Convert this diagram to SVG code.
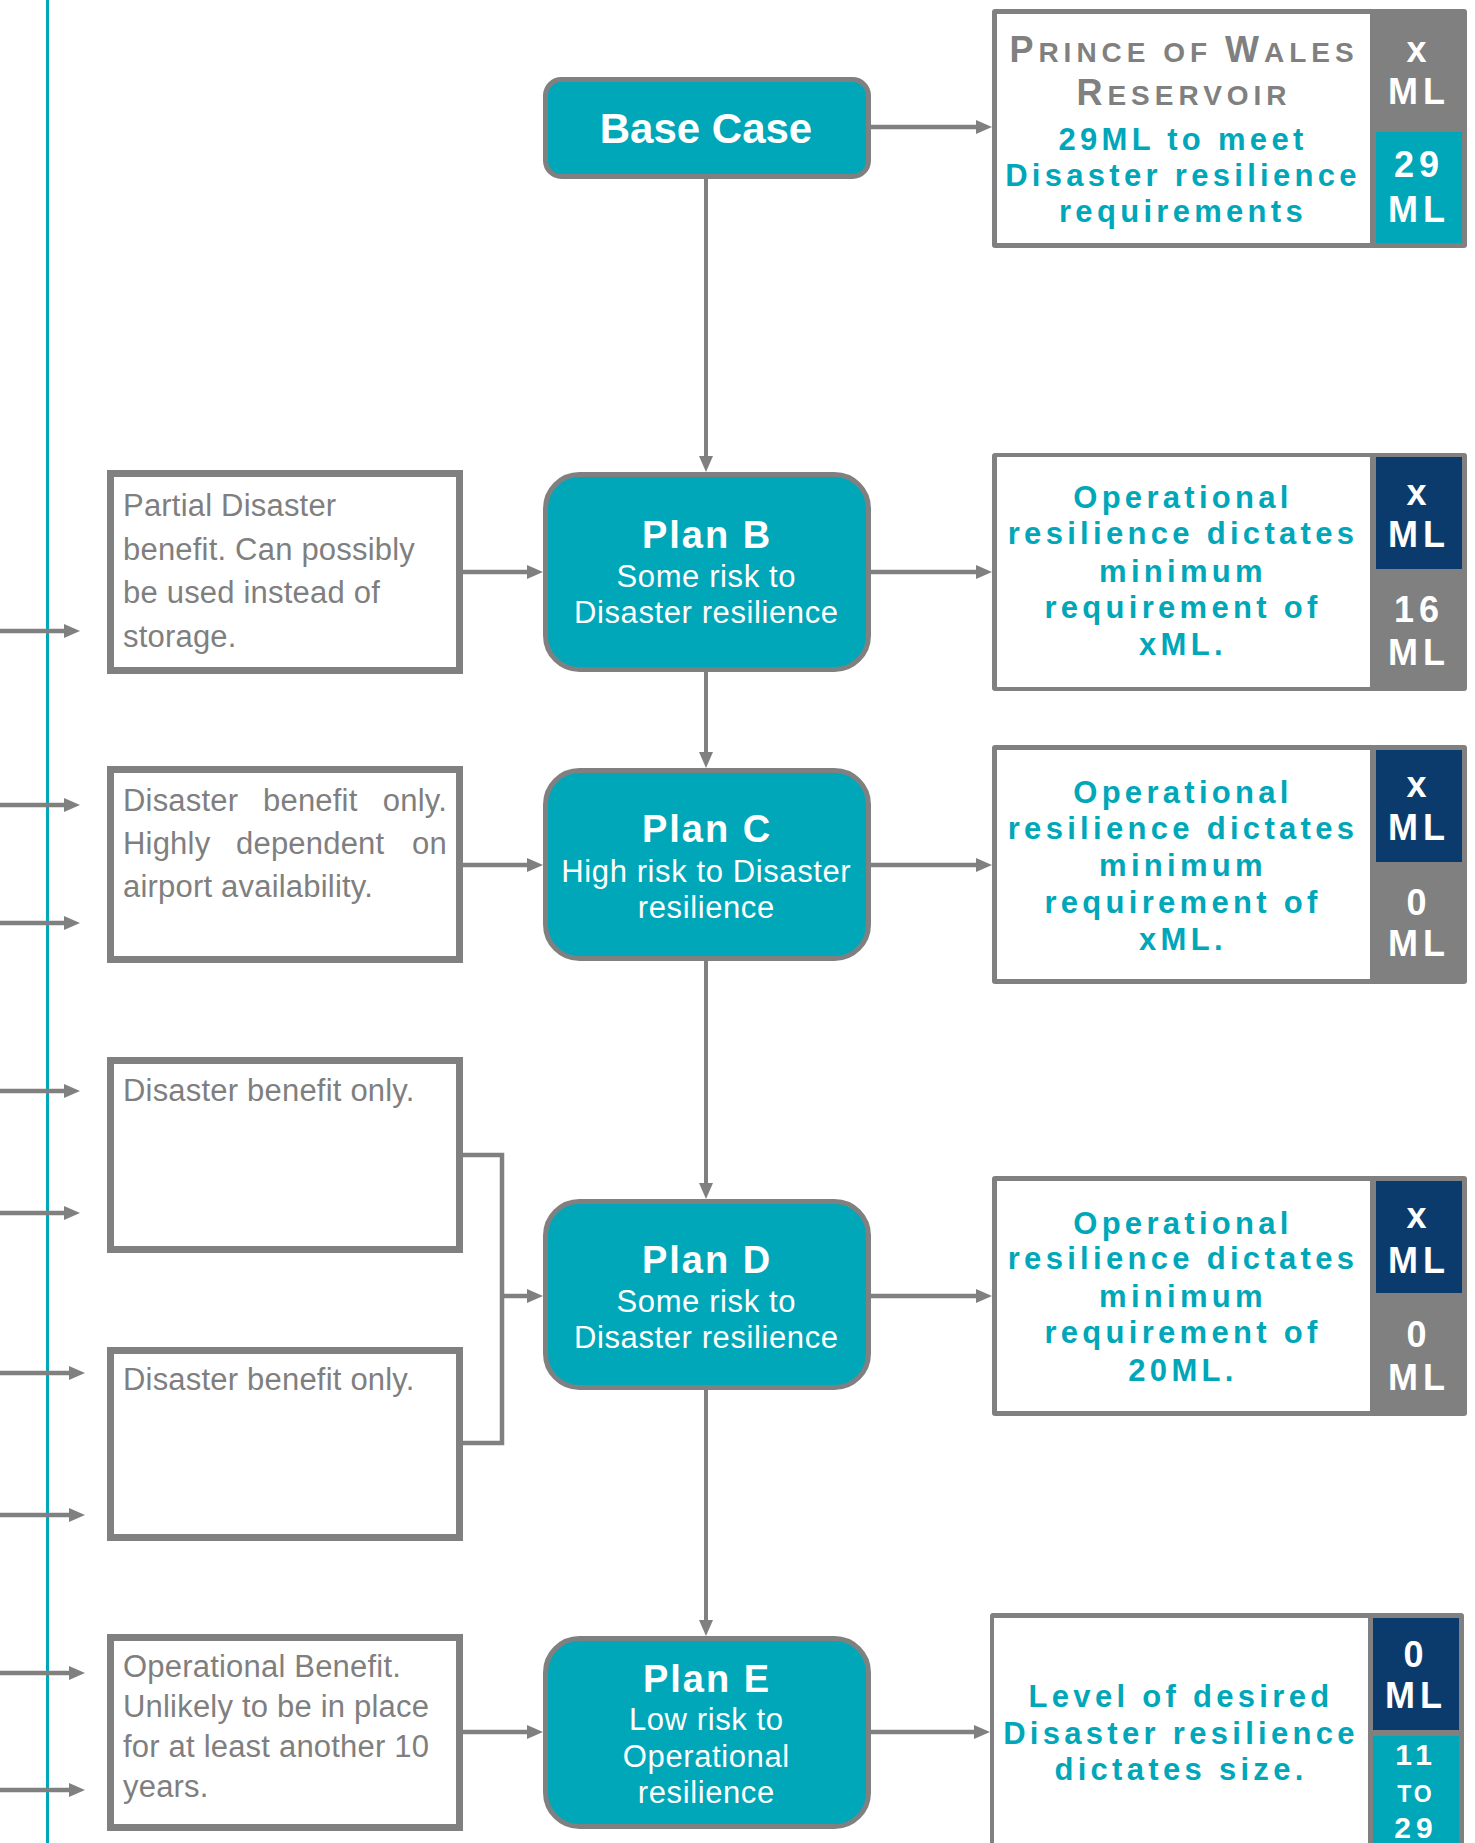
<svg xmlns="http://www.w3.org/2000/svg" width="1475" height="1843" viewBox="0 0 1475 1843">
<style>
text{font-family:"Liberation Sans",Arial,Helvetica,sans-serif}
.pbox{fill:#00A7B9;stroke:#808080;stroke-width:5}
.lbox{fill:#fff;stroke:#808080;stroke-width:7}
.rout{fill:#808080}
.rin{fill:#fff}
.navy{fill:#0A3B6C}
.tealsq{fill:#00A7B9}
.conn{stroke:#808080;stroke-width:4.5;fill:none}
.vconn{stroke:#808080;stroke-width:4;fill:none}
.ltxt{font-size:31px;fill:#7F7F7F;letter-spacing:0.2px}
.title{font-weight:bold;font-size:38px;fill:#fff;letter-spacing:2px;text-anchor:middle}
.base{font-weight:bold;font-size:42px;fill:#fff;text-anchor:middle}
.sub{font-size:31px;fill:#fff;letter-spacing:0.6px;text-anchor:middle}
.rtxt{font-weight:bold;font-size:31px;fill:#00A7B9;letter-spacing:4.3px;text-anchor:middle}
.num{font-weight:bold;font-size:36px;fill:#fff;letter-spacing:5px;text-anchor:middle}
.hd{font-weight:bold;font-size:28px;fill:#808080;letter-spacing:5px;text-anchor:middle}
.big{font-size:36px}
</style>
<defs>
<marker id="ah" markerUnits="userSpaceOnUse" markerWidth="16" markerHeight="14" refX="4" refY="7" orient="auto" viewBox="0 0 16 14">
<path d="M0,0 L16,7 L0,14 z" fill="#808080"/>
</marker>
</defs>

<rect x="46" y="0" width="3" height="1843" fill="#00A7B9"/>

<g id="connectors">
<line class="conn" x1="0" y1="631" x2="68" y2="631" marker-end="url(#ah)"/>
<line class="conn" x1="0" y1="805" x2="68" y2="805" marker-end="url(#ah)"/>
<line class="conn" x1="0" y1="923" x2="68" y2="923" marker-end="url(#ah)"/>
<line class="conn" x1="0" y1="1091" x2="68" y2="1091" marker-end="url(#ah)"/>
<line class="conn" x1="0" y1="1213" x2="68" y2="1213" marker-end="url(#ah)"/>
<line class="conn" x1="0" y1="1373" x2="73" y2="1373" marker-end="url(#ah)"/>
<line class="conn" x1="0" y1="1515" x2="73" y2="1515" marker-end="url(#ah)"/>
<line class="conn" x1="0" y1="1673" x2="73" y2="1673" marker-end="url(#ah)"/>
<line class="conn" x1="0" y1="1790" x2="73" y2="1790" marker-end="url(#ah)"/>

<line class="conn" x1="871" y1="127" x2="980" y2="127" marker-end="url(#ah)"/>
<line class="vconn" x1="706" y1="179" x2="706" y2="460" marker-end="url(#ah)"/>
<line class="conn" x1="463" y1="572" x2="531" y2="572" marker-end="url(#ah)"/>
<line class="conn" x1="871" y1="572" x2="980" y2="572" marker-end="url(#ah)"/>
<line class="vconn" x1="706" y1="672" x2="706" y2="756" marker-end="url(#ah)"/>
<line class="conn" x1="463" y1="865" x2="531" y2="865" marker-end="url(#ah)"/>
<line class="conn" x1="871" y1="865" x2="980" y2="865" marker-end="url(#ah)"/>
<line class="vconn" x1="706" y1="961" x2="706" y2="1187" marker-end="url(#ah)"/>
<polyline class="conn" points="463,1155 502,1155 502,1443 463,1443"/>
<line class="conn" x1="502" y1="1296" x2="531" y2="1296" marker-end="url(#ah)"/>
<line class="conn" x1="871" y1="1296" x2="980" y2="1296" marker-end="url(#ah)"/>
<line class="vconn" x1="706" y1="1390" x2="706" y2="1624" marker-end="url(#ah)"/>
<line class="conn" x1="463" y1="1732" x2="531" y2="1732" marker-end="url(#ah)"/>
<line class="conn" x1="871" y1="1732" x2="978" y2="1732" marker-end="url(#ah)"/>
</g>

<g id="base-case">
<rect class="pbox" x="545.5" y="79.5" width="323" height="97" rx="16"/>
<text class="base" x="706" y="143">Base Case</text>
</g>

<g id="pow-reservoir">
<rect class="rout" x="992" y="9" width="475" height="239" rx="3"/>
<rect class="rin" x="997" y="14" width="373" height="229"/>
<rect class="tealsq" x="1376" y="132" width="86" height="111"/>
<text class="hd" x="1184" y="62"><tspan class="big">P</tspan>RINCE OF <tspan class="big">W</tspan>ALES</text>
<text class="hd" x="1184" y="105"><tspan class="big">R</tspan>ESERVOIR</text>
<text class="rtxt" x="1183" y="150">29ML to meet</text>
<text class="rtxt" x="1183" y="186">Disaster resilience</text>
<text class="rtxt" x="1183" y="222">requirements</text>
<text class="num" x="1419" y="62">x</text>
<text class="num" x="1419" y="104">ML</text>
<text class="num" x="1419" y="177">29</text>
<text class="num" x="1419" y="222">ML</text>
</g>

<g id="note-b">
<rect class="lbox" x="110.5" y="473.5" width="349" height="197"/>
<text class="ltxt" x="123" y="516">Partial Disaster</text>
<text class="ltxt" x="123" y="559.5">benefit. Can possibly</text>
<text class="ltxt" x="123" y="603">be used instead of</text>
<text class="ltxt" x="123" y="646.5">storage.</text>
</g>

<g id="plan-b">
<rect class="pbox" x="545.5" y="474.5" width="323" height="195" rx="34"/>
<text class="title" x="707" y="548">Plan B</text>
<text class="sub" x="706.3" y="587">Some risk to</text>
<text class="sub" x="706.3" y="623">Disaster resilience</text>
</g>

<g id="result-b">
<rect class="rout" x="992" y="453" width="475" height="238" rx="3"/>
<rect class="rin" x="997" y="457" width="373" height="230"/>
<rect class="navy" x="1376" y="457" width="86" height="112"/>
<text class="rtxt" x="1183" y="508">Operational</text>
<text class="rtxt" x="1183" y="544">resilience dictates</text>
<text class="rtxt" x="1183" y="581.5">minimum</text>
<text class="rtxt" x="1183" y="618">requirement of</text>
<text class="rtxt" x="1183" y="655">xML.</text>
<text class="num" x="1419" y="505">x</text>
<text class="num" x="1419" y="547">ML</text>
<text class="num" x="1419" y="621.5">16</text>
<text class="num" x="1419" y="665">ML</text>
</g>

<g id="note-c">
<rect class="lbox" x="110.5" y="769.5" width="349" height="190"/>
<text class="ltxt" y="810.5"><tspan x="123">Disaster</tspan><tspan x="263">benefit</tspan><tspan x="447" text-anchor="end">only.</tspan></text>
<text class="ltxt" y="853.5"><tspan x="123">Highly</tspan><tspan x="236">dependent</tspan><tspan x="447" text-anchor="end">on</tspan></text>
<text class="ltxt" x="123" y="896.5">airport availability.</text>
</g>

<g id="plan-c">
<rect class="pbox" x="545.5" y="770.5" width="323" height="188" rx="34"/>
<text class="title" x="707" y="841.5">Plan C</text>
<text class="sub" x="706.3" y="881.5">High risk to Disaster</text>
<text class="sub" x="706.3" y="918">resilience</text>
</g>

<g id="result-c">
<rect class="rout" x="992" y="745" width="475" height="239" rx="3"/>
<rect class="rin" x="997" y="750" width="373" height="229"/>
<rect class="navy" x="1376" y="750" width="86" height="112"/>
<text class="rtxt" x="1183" y="802.5">Operational</text>
<text class="rtxt" x="1183" y="838.5">resilience dictates</text>
<text class="rtxt" x="1183" y="876">minimum</text>
<text class="rtxt" x="1183" y="912.5">requirement of</text>
<text class="rtxt" x="1183" y="950">xML.</text>
<text class="num" x="1419" y="796.5">x</text>
<text class="num" x="1419" y="840">ML</text>
<text class="num" x="1419" y="915">0</text>
<text class="num" x="1419" y="956">ML</text>
</g>

<g id="note-d1">
<rect class="lbox" x="110.5" y="1060.5" width="349" height="189"/>
<text class="ltxt" x="123" y="1100.5">Disaster benefit only.</text>
</g>

<g id="note-d2">
<rect class="lbox" x="110.5" y="1350.5" width="349" height="187"/>
<text class="ltxt" x="123" y="1389.5">Disaster benefit only.</text>
</g>

<g id="plan-d">
<rect class="pbox" x="545.5" y="1201.5" width="323" height="186" rx="34"/>
<text class="title" x="707" y="1273">Plan D</text>
<text class="sub" x="706.3" y="1311.5">Some risk to</text>
<text class="sub" x="706.3" y="1348">Disaster resilience</text>
</g>

<g id="result-d">
<rect class="rout" x="992" y="1176" width="475" height="240" rx="3"/>
<rect class="rin" x="997" y="1181" width="373" height="230"/>
<rect class="navy" x="1376" y="1181" width="86" height="112"/>
<text class="rtxt" x="1183" y="1234">Operational</text>
<text class="rtxt" x="1183" y="1269">resilience dictates</text>
<text class="rtxt" x="1183" y="1306.5">minimum</text>
<text class="rtxt" x="1183" y="1343">requirement of</text>
<text class="rtxt" x="1183" y="1380.5">20ML.</text>
<text class="num" x="1419" y="1228">x</text>
<text class="num" x="1419" y="1272.5">ML</text>
<text class="num" x="1419" y="1346.5">0</text>
<text class="num" x="1419" y="1390">ML</text>
</g>

<g id="note-e">
<rect class="lbox" x="110.5" y="1637.5" width="349" height="190"/>
<text class="ltxt" x="123" y="1676.5">Operational Benefit.</text>
<text class="ltxt" x="123" y="1717">Unlikely to be in place</text>
<text class="ltxt" x="123" y="1757">for at least another 10</text>
<text class="ltxt" x="123" y="1797">years.</text>
</g>

<g id="plan-e">
<rect class="pbox" x="545.5" y="1638.5" width="323" height="188" rx="34"/>
<text class="title" x="707" y="1691.5">Plan E</text>
<text class="sub" x="706.3" y="1730">Low risk to</text>
<text class="sub" x="706.3" y="1766.5">Operational</text>
<text class="sub" x="706.3" y="1803">resilience</text>
</g>

<g id="result-e">
<rect class="rout" x="990" y="1613" width="474" height="250" rx="3"/>
<rect class="rin" x="994" y="1618" width="374" height="240"/>
<rect class="navy" x="1373" y="1618" width="86" height="112"/>
<rect class="tealsq" x="1373" y="1736" width="86" height="120"/>
<text class="rtxt" x="1181" y="1706.5">Level of desired</text>
<text class="rtxt" x="1181" y="1744">Disaster resilience</text>
<text class="rtxt" x="1181" y="1780">dictates size.</text>
<text class="num" x="1416" y="1666.5">0</text>
<text class="num" x="1416" y="1708">ML</text>
<text class="num" x="1416" y="1765" style="font-size:30px">11</text>
<text class="num" x="1416" y="1801.5" style="font-size:23px;letter-spacing:3px">TO</text>
<text class="num" x="1416" y="1838" style="font-size:30px">29</text>
</g>
</svg>
